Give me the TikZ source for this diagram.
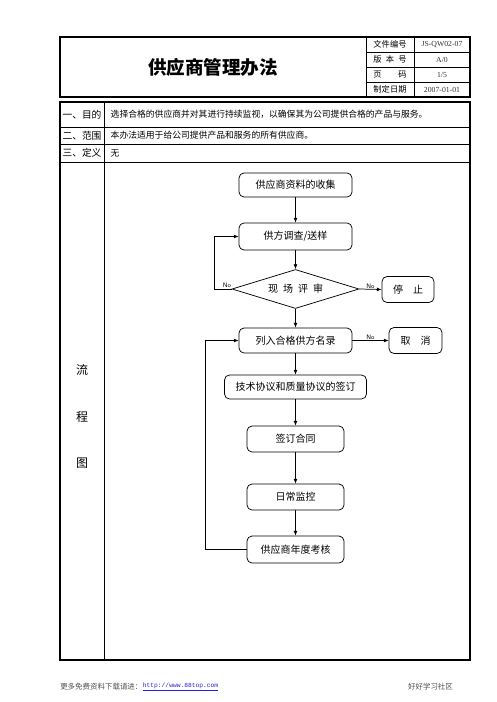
\documentclass[tikz,border=0pt]{standalone}
\usepackage{fontspec}
\usepackage{tikz}
\usetikzlibrary{shapes.geometric,arrows.meta}
\setmainfont{Liberation Serif}
\setmonofont{Liberation Mono}
\newfontfamily\cjk{Noto Sans CJK SC}
\definecolor{framec}{HTML}{000000}
\definecolor{linkc}{HTML}{2020E0}
\definecolor{footc}{HTML}{505050}
\tikzset{
  frame/.style={draw=framec, line width=0.9pt},
  rule/.style={draw=framec, line width=0.5pt},
  stepbox/.style={draw=framec, rounded corners=3.75pt, line width=0.55pt, inner sep=0pt, font=\cjk\fontsize{7.5}{9}\selectfont},
  checkbox/.style={draw=framec, diamond, aspect=3.26, inner sep=0pt, minimum width=95.25pt, minimum height=29.25pt, line width=0.55pt, font=\cjk\fontsize{7.5}{9}\selectfont},
  flow/.style={-{Latex[length=3.6pt,width=3pt]}, line width=0.55pt},
  nolab/.style={font=\sffamily\fontsize{4.8}{5}\selectfont, inner sep=0.6pt},
  head/.style={font=\cjk\fontsize{6.2}{7}\selectfont},
  headval/.style={font=\rmfamily\fontsize{5.8}{7}\selectfont, text=black!80},
  item/.style={font=\cjk\fontsize{7.3}{9}\selectfont},
  itemtext/.style={font=\cjk\fontsize{6.6}{8}\selectfont, anchor=west},
  side/.style={font=\cjk\fontsize{9}{10}\selectfont},
  foot/.style={font=\cjk\fontsize{5.6}{7}\selectfont, text=footc},
}

\begin{document}
\begin{tikzpicture}[x=0.75pt, y=-0.75pt]
\useasboundingbox (0,0) rectangle (496,702);
% header table
\draw[frame] (60,37) rectangle (470,97);
\draw[rule] (366,37) -- (366,97);
\draw[rule] (414,37) -- (414,97);
\foreach \y in {52,67,82} \draw[rule] (366,\y) -- (470,\y);
\node[font=\cjk\bfseries\fontsize{13.9}{16}\selectfont] (title) at (213,67) {供应商管理办法};
\node[head] (hno) at (390,44.5) {文件编号};
\node[head] (hver) at (390,59.5) {版\enspace 本\enspace 号};
\node[head] (hpage) at (390,74.5) {页\hspace{2em}码};
\node[head] (hdate) at (390,89.5) {制定日期};
\node[headval] (vno) at (442,44.5) {JS-QW02-07};
\node[headval] (vver) at (442,59.5) {A/0};
\node[headval] (vpage) at (442,74.5) {1/5};
\node[headval] (vdate) at (442,89.5) {2007-01-01};

% main table
\draw[frame] (60,102) rectangle (470,660);
\draw[rule] (104,102) -- (104,660);
\foreach \y in {127,144,162} \draw[rule] (60,\y) -- (470,\y);
\node[item] (aim) at (82,114.5) {一、目的};
\node[item] (scope) at (82,135.5) {二、范围};
\node[item] (defn) at (82,153) {三、定义};
\node[itemtext] (aimtxt) at (106,114.5) {选择合格的供应商并对其进行持续监视，以确保其为公司提供合格的产品与服务。};
\node[itemtext] (scopetxt) at (106,135.5) {本办法适用于给公司提供产品和服务的所有供应商。};
\node[itemtext] (defntxt) at (106,153) {无};
\node[side] (liu) at (82,370) {流};
\node[side] (cheng) at (82,417) {程};
\node[side] (tu) at (82,463) {图};

% flow chart
\node[stepbox, minimum width=84.75pt, minimum height=18pt] (collect) at (295.5,185) {供应商资料的收集};
\node[stepbox, minimum width=84.75pt, minimum height=20.25pt] (survey) at (295.5,236.5) {供方调查/送样};
\node[checkbox] (review) at (295.5,289) {现\enspace 场\enspace 评\enspace 审};
\node[stepbox, minimum width=39pt, minimum height=19.5pt] (stop) at (408,289.5) {停\hspace{1em}止};
\node[stepbox, minimum width=84.75pt, minimum height=18.75pt] (listed) at (295.5,340.5) {列入合格供方名录};
\node[stepbox, minimum width=39.75pt, minimum height=19.5pt] (cancel) at (415.5,340.5) {取\hspace{1em}消};
\node[stepbox, minimum width=106.5pt, minimum height=18pt] (sign) at (295.5,387) {技术协议和质量协议的签订};
\node[stepbox, minimum width=72.75pt, minimum height=19.5pt] (contract) at (295.5,439) {签订合同};
\node[stepbox, minimum width=72.75pt, minimum height=19.5pt] (monitor) at (295.5,497) {日常监控};
\node[stepbox, minimum width=72.75pt, minimum height=20.25pt] (annual) at (295.5,549.5) {供应商年度考核};

\draw[flow] (collect) -- (survey);
\draw[flow] (survey) -- (review);
\draw[flow] (review) -- (listed);
\draw[flow] (listed) -- (sign);
\draw[flow] (sign) -- (contract);
\draw[flow] (contract) -- (monitor);
\draw[flow] (monitor) -- (annual);
\draw[flow] (review.east) -- node[nolab, above] (no2) {No} (stop.west);
\draw[flow] (listed.east) -- node[nolab, above] (no3) {No} (cancel.west);
\draw[flow] (review.west) -- ++(-17,0) |- (survey.west);
\node[nolab, above] (no1) at (227,289) {No};
\draw[flow] (annual.west) -- ++(-41.5,0) |- (listed.west);

% footer
\node[foot, anchor=west, inner sep=0pt] (more) at (60,687) {更多免费资料下载请进：};
\node[anchor=west, inner sep=0pt, text=linkc, font=\ttfamily\fontsize{4.7}{6}\selectfont] (url) at (more.east) {\underline{http://www.88top.com}};
\node[foot] (club) at (430.5,687) {好好学习社区};
\end{tikzpicture}
\end{document}
